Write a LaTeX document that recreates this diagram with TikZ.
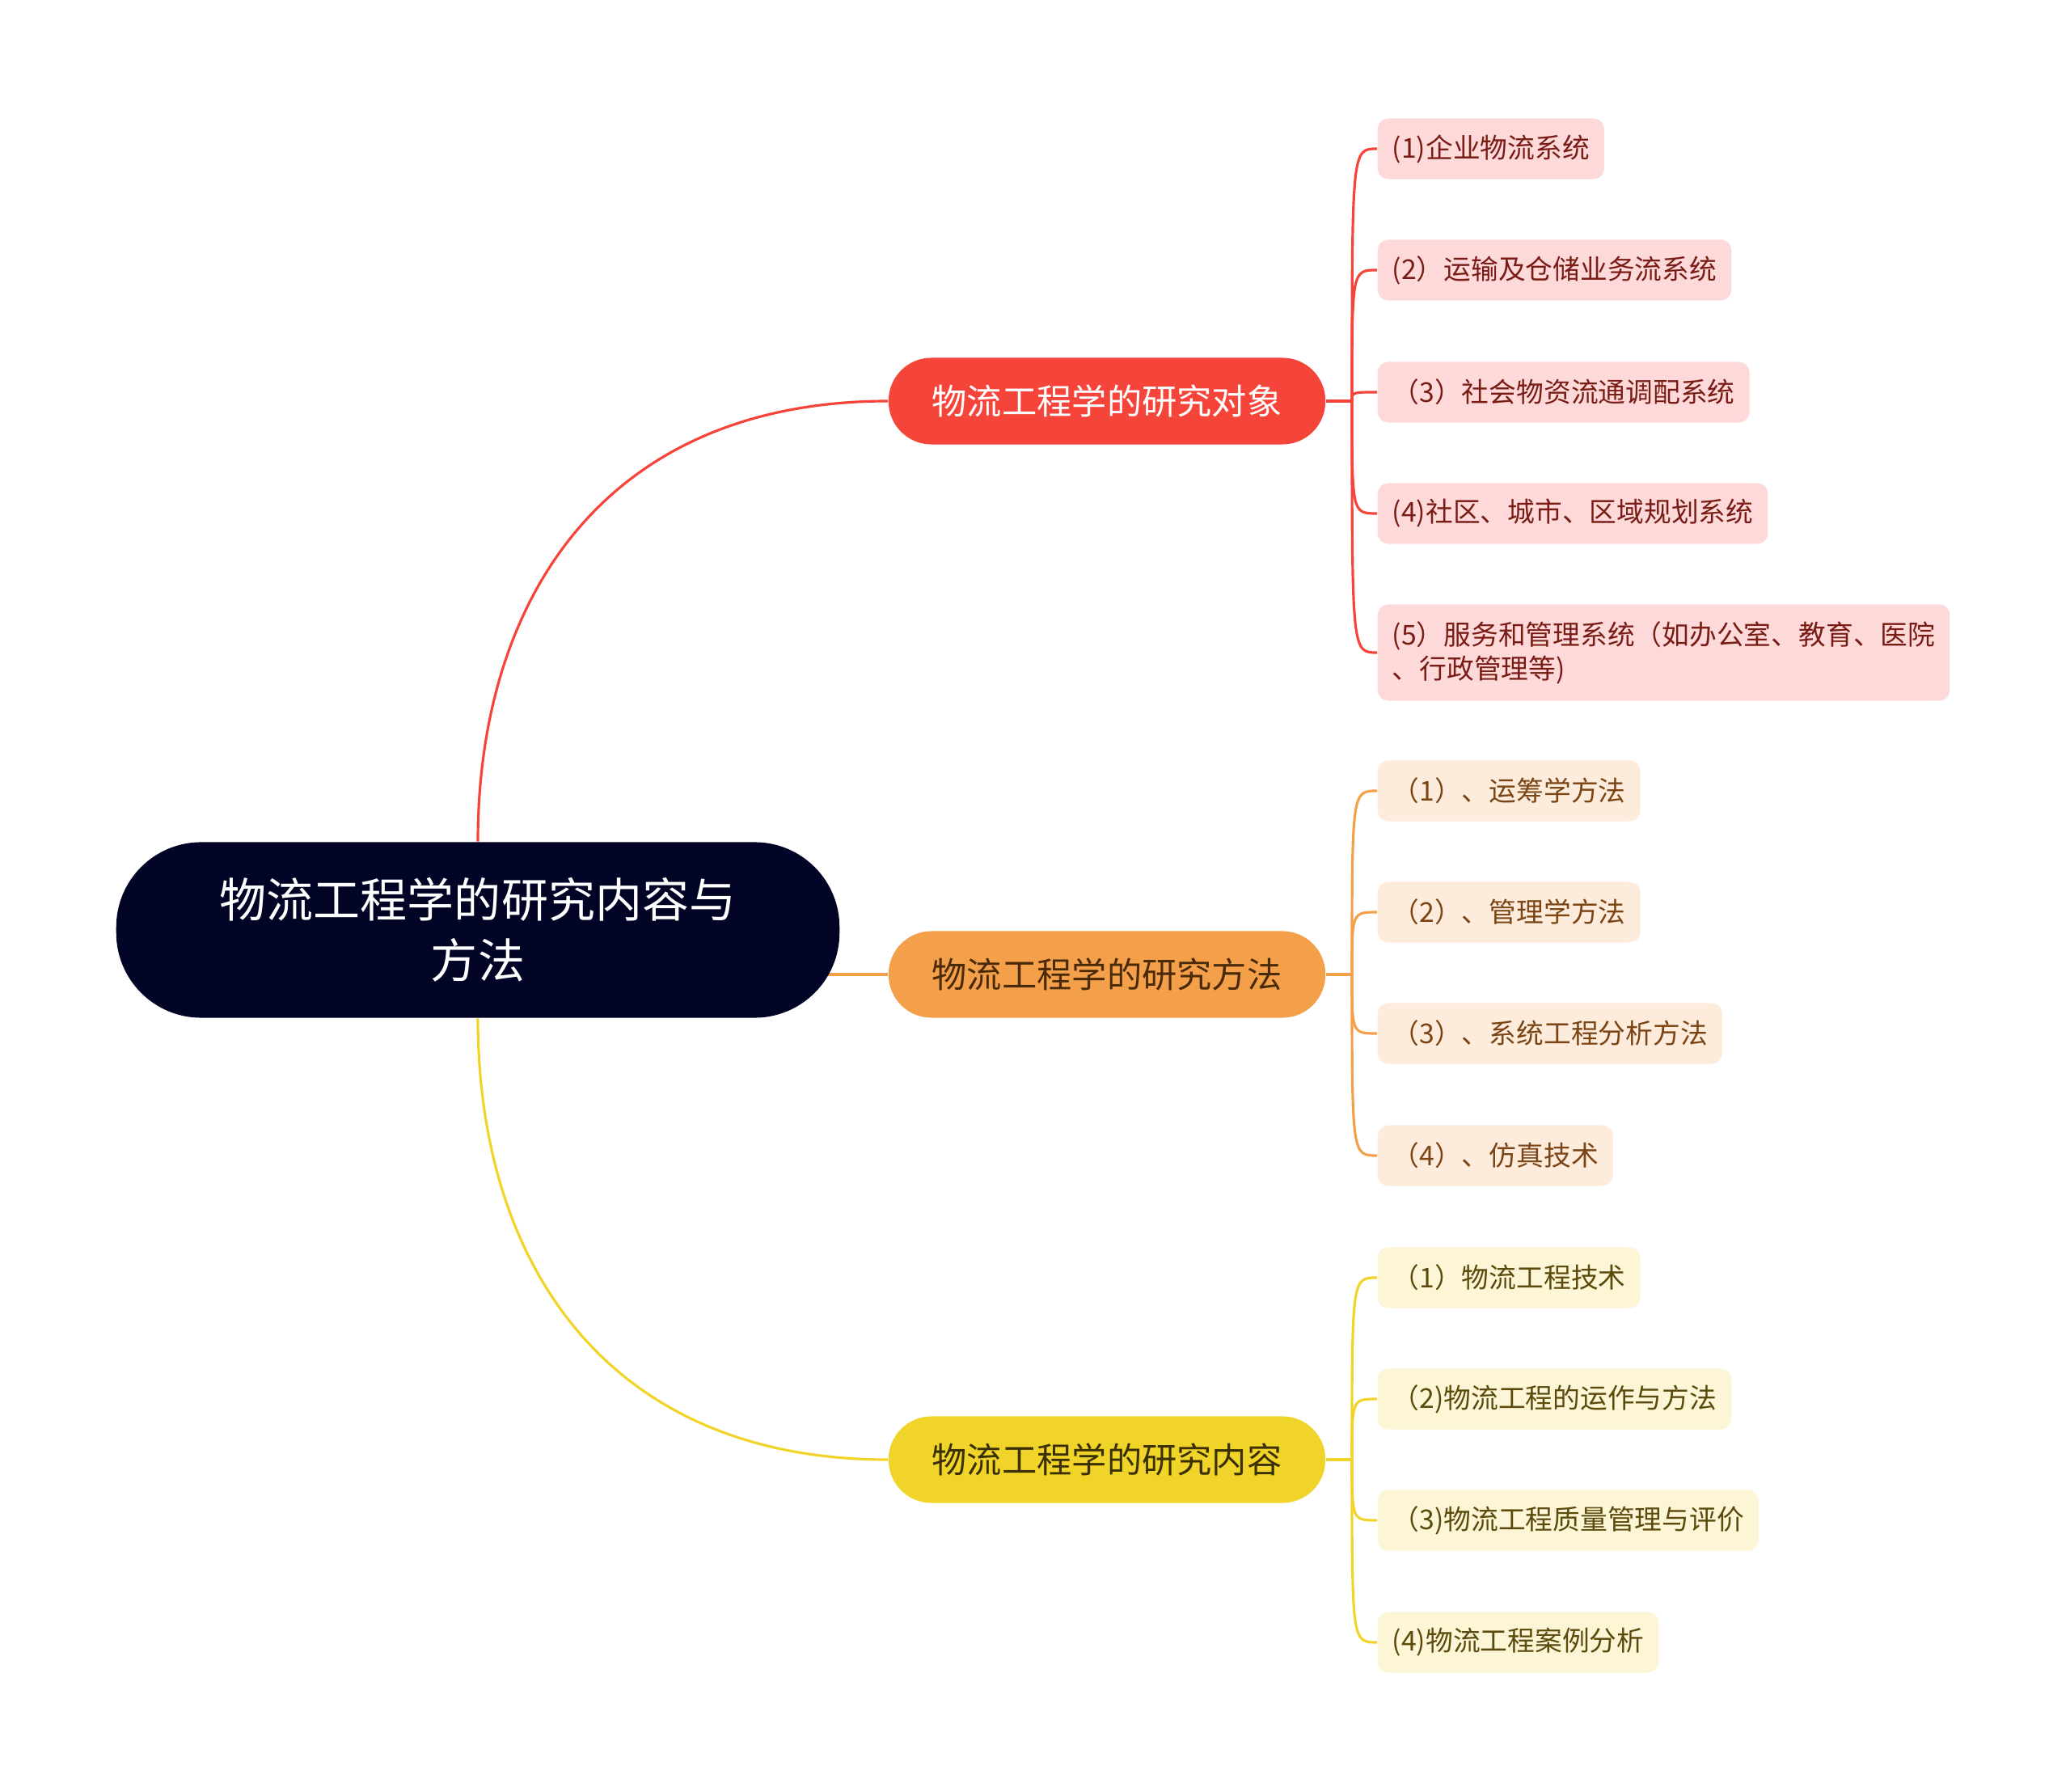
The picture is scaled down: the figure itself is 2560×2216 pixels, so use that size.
\documentclass[tikz,border=0pt]{standalone}
\usepackage{fontspec}
\setmainfont{Noto Sans CJK SC}
\usetikzlibrary{backgrounds}
\definecolor{rootc}{HTML}{020426}
\definecolor{redc}{HTML}{F5453B}
\definecolor{orac}{HTML}{F4A04B}
\definecolor{yelc}{HTML}{F1D42A}
\definecolor{oratx}{HTML}{4A2A08}
\definecolor{yeltx}{HTML}{3A3004}
\definecolor{redl}{HTML}{FDDAD9}
\definecolor{oral}{HTML}{FDEBDC}
\definecolor{yell}{HTML}{FCF5D6}
\definecolor{redtx}{HTML}{7A1C16}
\definecolor{oratxl}{HTML}{7A4414}
\definecolor{yeltxl}{HTML}{5A4A0C}
\begin{document}
\begin{tikzpicture}[x=0.01cm,y=-0.01cm,
  topic/.style={rounded corners=0.53cm,minimum width=5.4cm,minimum height=1.07cm,inner sep=0pt,font=\fontsize{12.3}{15}\selectfont},
  leaf/.style={anchor=west,rounded corners=0.13cm,inner xsep=0.18cm,inner ysep=0pt,align=left,font=\fontsize{9.6}{12}\selectfont},
  link/.style={line width=0.9pt}]

\useasboundingbox (0,0) rectangle (2560,2216);

\node[fill=rootc,text=white,rounded corners=1.05cm,minimum width=8.94cm,minimum height=2.17cm,align=center,font=\fontsize{16.5}{21.3}\selectfont] (root) at (591,1150) {物流工程学的研究内容与\\方法};

\node[topic,fill=redc,text=white] (obj) at (1369,496) {物流工程学的研究对象};
\node[topic,fill=orac,text=oratx] (meth) at (1369,1205) {物流工程学的研究方法};
\node[topic,fill=yelc,text=yeltx] (cont) at (1369,1805) {物流工程学的研究内容};

\coordinate (jr) at (1672,496);
\coordinate (jo) at (1672,1205);
\coordinate (jy) at (1672,1805);

% objects
\foreach \i/\y/\h/\t in {1/184/0.75/{(1)企业物流系统}, 2/334/0.75/{(2）运输及仓储业务流系统}, 3/485/0.75/{（3）社会物资流通调配系统}, 4/635/0.75/{(4)社区、城市、区域规划系统}, 5/807/1.19/{(5）服务和管理系统（如办公室、教育、医院\\、行政管理等)}}{
\node[leaf,fill=redl,text=redtx,minimum height=\h cm] (r\i) at (1703,\y) {\t};
}

% methods
\foreach \i/\y/\t in {1/978/{（1）、运筹学方法}, 2/1128/{（2）、管理学方法}, 3/1278/{（3）、系统工程分析方法}, 4/1429/{（4）、仿真技术}}{
\node[leaf,fill=oral,text=oratxl,minimum height=0.75cm] (o\i) at (1703,\y) {\t};
}

% contents
\foreach \i/\y/\t in {1/1580/{（1）物流工程技术}, 2/1730/{（2)物流工程的运作与方法}, 3/1880/{（3)物流工程质量管理与评价}, 4/2031/{(4)物流工程案例分析}}{
\node[leaf,fill=yell,text=yeltxl,minimum height=0.75cm] (y\i) at (1703,\y) {\t};
}

\begin{pgfonlayer}{background}
\draw[link,redc] (root.north) .. controls +(0,-300) and +(-350,0) .. (obj.west);
\draw[link,orac] (root.center |- meth.west) -- (meth.west);
\draw[link,yelc] (root.south) .. controls +(0,300) and +(-350,0) .. (cont.west);

\draw[link,redc] (obj.east) -- (jr);
\draw[link,orac] (meth.east) -- (jo);
\draw[link,yelc] (cont.east) -- (jy);

\foreach \i in {1,...,5}{
\draw[link,redc] (jr) .. controls (jr |- r\i.west) .. (r\i.west);
}
\foreach \i in {1,...,4}{
\draw[link,orac] (jo) .. controls (jo |- o\i.west) .. (o\i.west);
\draw[link,yelc] (jy) .. controls (jy |- y\i.west) .. (y\i.west);
}
\end{pgfonlayer}

\end{tikzpicture}
\end{document}
